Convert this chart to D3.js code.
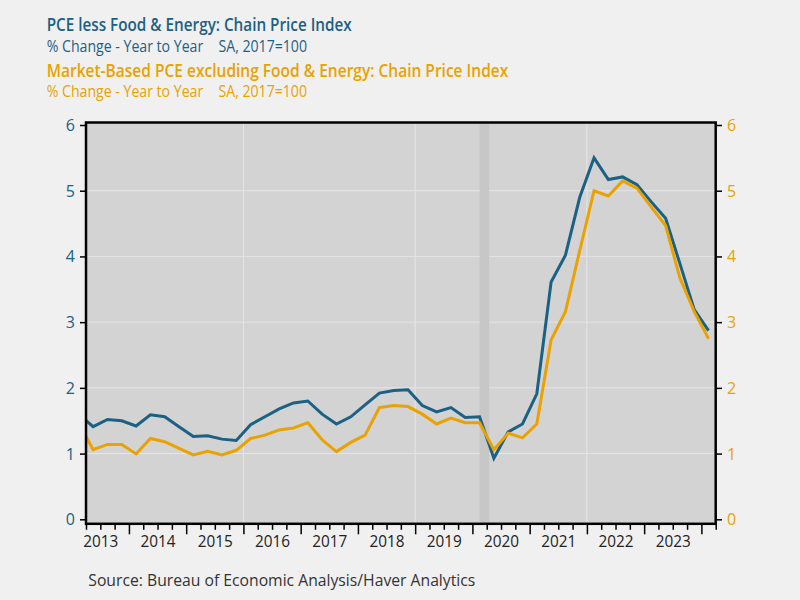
<!DOCTYPE html>
<html>
<head>
<meta charset="utf-8">
<script src="https://cdn.jsdelivr.net/npm/d3@7"></script>
<style>
  html, body { margin: 0; padding: 0; background: #f0f0f0; }
  svg { display: block; }
  text { font-family: "Open Sans", "Noto Sans", sans-serif; }
</style>
</head>
<body>
<svg id="chart" width="800" height="600"></svg>
<script>
// ---------------- DATA ----------------
const quarters = [
  "2013Q1","2013Q2","2013Q3","2013Q4",
  "2014Q1","2014Q2","2014Q3","2014Q4",
  "2015Q1","2015Q2","2015Q3","2015Q4",
  "2016Q1","2016Q2","2016Q3","2016Q4",
  "2017Q1","2017Q2","2017Q3","2017Q4",
  "2018Q1","2018Q2","2018Q3","2018Q4",
  "2019Q1","2019Q2","2019Q3","2019Q4",
  "2020Q1","2020Q2","2020Q3","2020Q4",
  "2021Q1","2021Q2","2021Q3","2021Q4",
  "2022Q1","2022Q2","2022Q3","2022Q4",
  "2023Q1","2023Q2","2023Q3","2023Q4",
  "2024Q1"
];
const pceCore = [
  1.60, 1.41, 1.52, 1.50,
  1.42, 1.59, 1.56, 1.41,
  1.26, 1.27, 1.22, 1.20,
  1.44, 1.56, 1.68, 1.77,
  1.80, 1.60, 1.45, 1.56,
  1.74, 1.92, 1.96, 1.97,
  1.73, 1.635, 1.70, 1.55,
  1.56, 0.93, 1.33, 1.45,
  1.91, 3.61, 4.02, 4.90,
  5.50, 5.17, 5.21, 5.09,
  4.83, 4.58, 3.89, 3.19,
  2.87
];
const marketCore = [
  1.46, 1.06, 1.14, 1.14,
  0.995, 1.23, 1.18, 1.08,
  0.98, 1.035, 0.98, 1.05,
  1.23, 1.28, 1.36, 1.39,
  1.47, 1.21, 1.03, 1.17,
  1.28, 1.70, 1.73, 1.715,
  1.60, 1.45, 1.54, 1.47,
  1.47, 1.06, 1.31, 1.24,
  1.45, 2.73, 3.16, 4.09,
  5.00, 4.92, 5.15, 5.04,
  4.75, 4.47, 3.67, 3.16,
  2.75
];
const yTicks = [0, 1, 2, 3, 4, 5, 6];
const yGrid = [1, 2, 3, 4, 5];
const yearLabels = [2013, 2014, 2015, 2016, 2017, 2018, 2019, 2020, 2021, 2022, 2023];
const xGridYears = [2016, 2019, 2022];
const recession = [2020.125, 2020.2917];
const xDomain = [2013.25, 2024.25];

const title1 = "PCE less Food & Energy: Chain Price Index";
const title2 = "Market-Based PCE excluding Food & Energy: Chain Price Index";
const subA = "% Change - Year to Year";
const subB = "SA, 2017=100";
const source = "Source:  Bureau of Economic Analysis/Haver Analytics";

// ---------------- LAYOUT ----------------
const BLUE = "#1b6184";
const ORANGE = "#e9a200";
const plot = { left: 86, right: 715.7, top: 122.5, bottom: 523.8 };

const svg = d3.select("#chart");
svg.append("rect").attr("width", 800).attr("height", 600).attr("fill", "#f0f0f0");

const toTime = q => +q.slice(0, 4) + (+q.slice(5) - 0.5) / 4;

const x = d3.scaleLinear().domain(xDomain).range([plot.left, plot.right]);
const y = d3.scaleLinear().domain([0, 6]).range([519.3, 125]);

// plot background
svg.append("rect")
  .attr("x", plot.left).attr("y", plot.top)
  .attr("width", plot.right - plot.left).attr("height", plot.bottom - plot.top)
  .attr("fill", "#d3d3d3");

// gridlines
svg.append("g").selectAll("line").data(yGrid).join("line")
  .attr("x1", plot.left).attr("x2", plot.right)
  .attr("y1", d => y(d)).attr("y2", d => y(d))
  .attr("stroke", "#e6e6e6").attr("stroke-width", 1);
svg.append("g").selectAll("line").data(xGridYears).join("line")
  .attr("x1", d => x(d)).attr("x2", d => x(d))
  .attr("y1", plot.top).attr("y2", plot.bottom)
  .attr("stroke", "#e6e6e6").attr("stroke-width", 1);

// recession band
svg.append("rect")
  .attr("x", x(recession[0])).attr("y", plot.top)
  .attr("width", x(recession[1]) - x(recession[0]))
  .attr("height", plot.bottom - plot.top)
  .attr("fill", "#c7c7c7");

// clip
svg.append("clipPath").attr("id", "clip").append("rect")
  .attr("x", plot.left).attr("y", plot.top)
  .attr("width", plot.right - plot.left).attr("height", plot.bottom - plot.top);

const line = d3.line().x(d => x(d.t)).y(d => y(d.v));
const s1 = quarters.map((q, i) => ({ t: toTime(q), v: pceCore[i] }));
const s2 = quarters.map((q, i) => ({ t: toTime(q), v: marketCore[i] }));

const lg = svg.append("g").attr("clip-path", "url(#clip)");
lg.append("path").datum(s1).attr("d", line)
  .attr("fill", "none").attr("stroke", BLUE).attr("stroke-width", 3)
  .attr("stroke-linejoin", "miter");
lg.append("path").datum(s2).attr("d", line)
  .attr("fill", "none").attr("stroke", ORANGE).attr("stroke-width", 3)
  .attr("stroke-linejoin", "miter");

// frame
svg.append("rect")
  .attr("x", plot.left).attr("y", plot.top)
  .attr("width", plot.right - plot.left).attr("height", plot.bottom - plot.top)
  .attr("fill", "none").attr("stroke", "#000").attr("stroke-width", 2.5);

// left axis
const la = svg.append("g").attr("transform", `translate(${plot.left - 0.5},0)`)
  .call(d3.axisLeft(y).tickValues(yTicks).tickSize(5.5).tickPadding(5).tickFormat(d3.format("d")));
la.select(".domain").remove();
la.selectAll(".tick line").attr("stroke", "#000").attr("stroke-width", 1.5);
la.selectAll(".tick text").attr("fill", BLUE).attr("font-size", 16)
  .attr("font-family", "'Open Sans', sans-serif").attr("dy", "0.34em");

// right axis
const ra = svg.append("g").attr("transform", `translate(${plot.right + 0.8},0)`)
  .call(d3.axisRight(y).tickValues(yTicks).tickSize(5.5).tickPadding(5).tickFormat(d3.format("d")));
ra.select(".domain").remove();
ra.selectAll(".tick line").attr("stroke", "#000").attr("stroke-width", 1.5);
ra.selectAll(".tick text").attr("fill", ORANGE).attr("font-size", 16)
  .attr("font-family", "'Open Sans', sans-serif").attr("dy", "0.34em");

// bottom axis: quarter ticks
const qTicks = d3.range(0, 45).map(i => xDomain[0] + i * 0.25);
const ba = svg.append("g").attr("transform", `translate(0,${plot.bottom + 1})`)
  .call(d3.axisBottom(x).tickValues(qTicks).tickSize(5).tickFormat(""));
ba.select(".domain").remove();
ba.selectAll(".tick line")
  .attr("stroke", "#000").attr("stroke-width", 1.5)
  .attr("y2", d => Math.abs(d - Math.round(d)) < 1e-6 ? 9.5 : 5);

// bottom axis: year labels
const ya = svg.append("g").attr("transform", `translate(0,${plot.bottom})`)
  .call(d3.axisBottom(x).tickValues(yearLabels.map(v => v + 0.5)).tickSize(0)
    .tickFormat(d => String(Math.floor(d))));
ya.select(".domain").remove();
ya.selectAll(".tick text").attr("fill", "#222").attr("font-size", 16)
  .attr("font-family", "'Open Sans', sans-serif")
  .attr("dy", null).attr("y", 547 - plot.bottom)
  .attr("textLength", 35).attr("lengthAdjust", "spacingAndGlyphs");

// ---------------- TEXT ----------------
function fitText(str, x0, baseline, width, size, color, weight) {
  return svg.append("text")
    .attr("x", x0).attr("y", baseline)
    .attr("font-size", size).attr("font-weight", weight || 400)
    .attr("fill", color)
    .attr("textLength", width).attr("lengthAdjust", "spacingAndGlyphs")
    .text(str);
}
fitText(title1, 46.7, 31.3, 305, 18, BLUE, 600);
fitText(subA, 46.7, 52, 156.5, 16, BLUE, 400);
fitText(subB, 218.5, 52, 88.5, 16, BLUE, 400);
fitText(title2, 46.7, 76.5, 461.6, 18, ORANGE, 600);
fitText(subA, 46.7, 96.5, 156.5, 16, ORANGE, 400);
fitText(subB, 218.5, 96.5, 88.5, 16, ORANGE, 400);
fitText(source, 88.3, 585.5, 387, 15.5, "#333", 400);
</script>
</body>
</html>
